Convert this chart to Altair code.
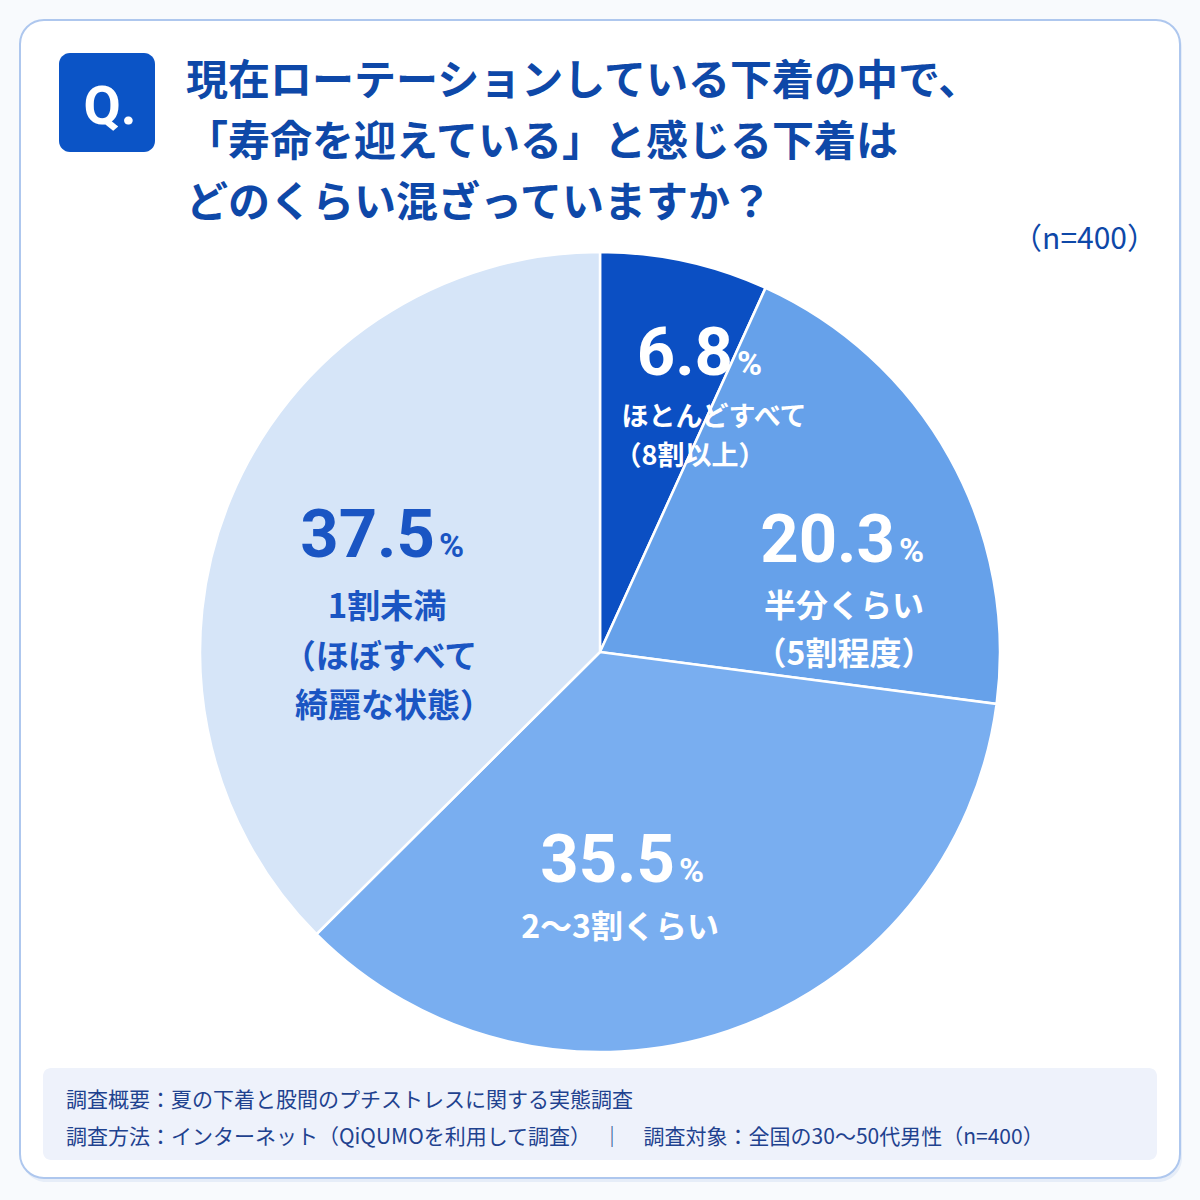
import altair as alt
import pandas as pd

# ---- data -----------------------------------------------------------------
categories = [
    "ほとんどすべて（8割以上）",
    "半分くらい（5割程度）",
    "2～3割くらい",
    "1割未満（ほぼすべて綺麗な状態）",
]
shares = [6.8, 20.3, 35.5, 37.5]
label_lines = [
    ["ほとんどすべて", "（8割以上）"],
    ["半分くらい", "（5割程度）"],
    ["2～3割くらい"],
    ["1割未満", "（ほぼすべて", "綺麗な状態）"],
]
title_lines = [
    "現在ローテーションしている下着の中で、",
    "「寿命を迎えている」と感じる下着は",
    "どのくらい混ざっていますか？",
]
sample_note = "（n=400）"
footer_lines = [
    "調査概要：夏の下着と股間のプチストレスに関する実態調査",
    "調査方法：インターネット（QiQUMOを利用して調査）　｜　調査対象：全国の30～50代男性（n=400）",
]

# ---- styling / layout -----------------------------------------------------
slice_colors = ["#0b4fc3", "#66a1ea", "#79aef0", "#d6e5f8"]
label_colors = ["#ffffff", "#ffffff", "#ffffff", "#1a55c3"]
NAVY = "#0e48a8"
JP = "Noto Sans CJK JP"
NUM = "Roboto"
CX, CY, R = 600, 652, 400

# value label anchors: (right edge of number, baseline)
pct_anchor = [(733, 375), (895, 562), (675, 882), (435, 557)]
# category label line anchors: (center x, center y, font size)
line_anchor = [
    [(714, 418, 27), (690, 457, 27)],
    [(844, 607, 32), (844, 655, 32)],
    [(620, 928, 32)],
    [(387, 608, 33), (380, 658, 33), (394, 707, 33)],
]

one = pd.DataFrame({"k": [0]})


def box(x1, y1, x2, y2, **kw):
    return alt.Chart(one).mark_rect(**kw).encode(
        x=alt.value(x1), x2=alt.value(x2), y=alt.value(y1), y2=alt.value(y2)
    )


def text_layer(df, **kw):
    enc = dict(
        x=alt.X("px:Q", scale=None, axis=None),
        y=alt.Y("py:Q", scale=None, axis=None),
        text=alt.Text("txt:N"),
    )
    if "fs" in df:
        enc["size"] = alt.Size("fs:Q", scale=None, legend=None)
    if "col" in df:
        enc["color"] = alt.Color("col:N", scale=None, legend=None)
    return alt.Chart(df).mark_text(**kw).encode(**enc)


# ---- card background ------------------------------------------------------
shadow = box(22, 24, 1182, 1182, fill="#e6edf8", cornerRadius=24)
card = box(20, 20, 1180, 1178, fill="#ffffff", stroke="#aec7ee",
           strokeWidth=2, cornerRadius=24)
q_box = box(59, 53, 155, 152, fill="#0b54c6", cornerRadius=11)
footer_box = box(43, 1068, 1157, 1160, fill="#eef2fb", cornerRadius=8)

q_text = text_layer(pd.DataFrame({"px": [110], "py": [124], "txt": ["Q."]}),
                    font=NUM, fontSize=54, fontWeight="bold", color="#ffffff",
                    align="center", baseline="alphabetic")

title = text_layer(
    pd.DataFrame({"px": [186] * 3, "py": [82, 143, 204], "txt": title_lines}),
    font=JP, fontSize=42, fontWeight="bold", color=NAVY,
    align="left", baseline="middle",
)

note = text_layer(pd.DataFrame({"px": [1157], "py": [240], "txt": [sample_note]}),
                  font=JP, fontSize=30, color=NAVY, align="right",
                  baseline="middle")

footer = text_layer(
    pd.DataFrame({"px": [66, 66], "py": [1101, 1138], "txt": footer_lines}),
    font=JP, fontSize=21, color="#1f428f", align="left", baseline="middle",
)

# ---- pie --------------------------------------------------------------------
pie_df = pd.DataFrame({"category": categories, "share": shares,
                       "idx": list(range(len(shares)))})
pie = alt.Chart(pie_df).mark_arc(radius=R, stroke="#ffffff", strokeWidth=2.5).encode(
    theta=alt.Theta("share:Q", stack=True),
    color=alt.Color("category:N",
                    scale=alt.Scale(domain=categories, range=slice_colors),
                    legend=None),
    order=alt.Order("idx:Q"),
    x=alt.value(CX),
    y=alt.value(CY),
)

# ---- slice labels -------------------------------------------------------------
num_rows, pct_rows, line_rows = [], [], []
for i, v in enumerate(shares):
    ax, ay = pct_anchor[i]
    num_rows.append({"px": ax, "py": ay, "txt": f"{v:.1f}", "col": label_colors[i]})
    pct_rows.append({"px": ax + 4, "py": ay, "txt": "%", "col": label_colors[i]})
    for line, (lx, ly, fs) in zip(label_lines[i], line_anchor[i]):
        line_rows.append({"px": lx, "py": ly, "txt": line, "fs": fs,
                          "col": label_colors[i]})

num_text = text_layer(pd.DataFrame(num_rows), font=NUM, fontSize=67,
                      fontWeight="bold", align="right", baseline="alphabetic")
pct_text = text_layer(pd.DataFrame(pct_rows), font=NUM, fontSize=34,
                      fontWeight="bold", align="left", baseline="alphabetic")
line_text = text_layer(pd.DataFrame(line_rows), font=JP, fontWeight="bold",
                       align="center", baseline="middle")

chart = alt.layer(
    shadow, card, q_box, footer_box, q_text, title, note, footer,
    pie, num_text, pct_text, line_text,
).properties(
    width=1200,
    height=1200,
    padding=0,
    background="#f8fafd",
    autosize=alt.AutoSizeParams(type="none"),
).configure_view(stroke=None)

chart.save("out.html", embed_options={"renderer": "svg", "actions": False})
